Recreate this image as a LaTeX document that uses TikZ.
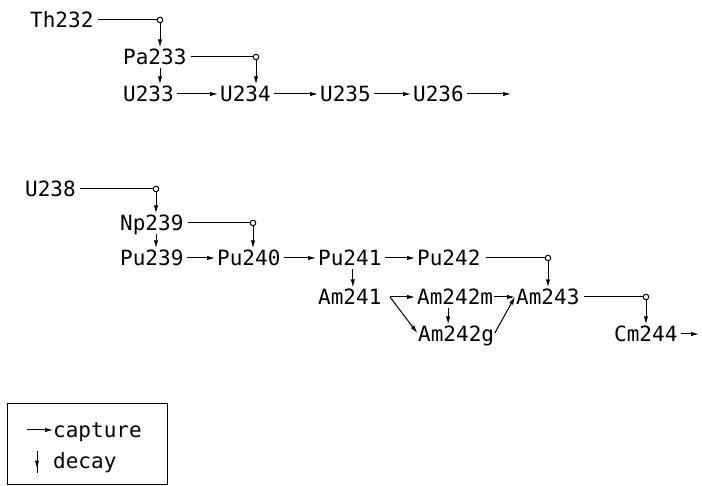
\documentclass[tikz,border=0pt]{standalone}
\usepackage{fontspec}
\setmainfont{DejaVu Sans Mono}
\usetikzlibrary{arrows.meta,calc}
\begin{document}
\begin{tikzpicture}[x=1pt,y=-1pt,
  nuc/.style={anchor=west,inner sep=0pt,text height=15pt,text depth=0pt,
    font=\fontsize{21}{24}\selectfont},
  ln/.style={line width=1pt},
  caparr/.style={ln,-{Latex[length=8pt,width=4.4pt]},shorten <=3pt,shorten >=2pt},
  decarr/.style={ln,-{Latex[length=8pt,width=4.4pt]},shorten <=2pt,shorten >=2pt},
  br/.style={circle,draw,line width=1pt,inner sep=0pt,minimum size=5.5pt}]
\useasboundingbox (0,0) rectangle (702,486);
% ---------- thorium chain
\node[nuc] (Th232) at (30,20) {Th232};
\node[br] (b1) at (160,20) {};
\node[nuc] (Pa233) at (123,57) {Pa233};
\node[br] (b2) at (256,57) {};
\node[nuc] (U233) at (123,94) {U233};
\node[nuc] (U234) at (220,94) {U234};
\node[nuc] (U235) at (320,94) {U235};
\node[nuc] (U236) at (413,94) {U236};
\coordinate (endU) at (513,94);
\draw[ln,shorten <=4pt] (Th232.east) -- (b1);
\draw[decarr,shorten <=0pt] (b1) -- (b1 |- Pa233.north);
\draw[ln,shorten <=4pt] (Pa233.east) -- (b2);
\draw[decarr,shorten <=0pt] (b2) -- (b2 |- U234.north);
\draw[decarr,shorten <=3pt] (Pa233.south -| b1) -- (U233.north -| b1);
\draw[caparr] (U233.east) -- (U234.west);
\draw[caparr] (U234.east) -- (U235.west);
\draw[caparr] (U235.east) -- (U236.west);
\draw[caparr] (U236.east) -- (endU);
% ---------- uranium chain
\node[nuc] (U238) at (25,189) {U238};
\node[br] (b3) at (156,189) {};
\node[nuc] (Np239) at (120,223) {Np239};
\node[br] (b4) at (253,223) {};
\node[nuc] (Pu239) at (120,258) {Pu239};
\node[nuc] (Pu240) at (217,258) {Pu240};
\node[nuc] (Pu241) at (318,258) {Pu241};
\node[nuc] (Pu242) at (417,258) {Pu242};
\node[br] (b5) at (548,258) {};
\node[nuc] (Am241) at (318,297) {Am241};
\coordinate (c1) at (390,297);
\node[nuc] (Am242m) at (417,297) {Am242m};
\node[nuc] (Am243) at (516,297) {Am243};
\node[br] (b6) at (646,297) {};
\node[nuc] (Am242g) at (418,334) {Am242g};
\node[nuc] (Cm244) at (614,334) {Cm244};
\coordinate (endC) at (701,334);
\draw[ln,shorten <=4pt] (U238.east) -- (b3);
\draw[decarr,shorten <=0pt] (b3) -- (b3 |- Np239.north);
\draw[ln,shorten <=4pt] (Np239.east) -- (b4);
\draw[decarr,shorten <=0pt] (b4) -- (b4 |- Pu240.north);
\draw[decarr,shorten <=3pt] (Np239.south -| b3) -- (Pu239.north -| b3);
\draw[caparr] (Pu239.east) -- (Pu240.west);
\draw[caparr] (Pu240.east) -- (Pu241.west);
\draw[caparr] (Pu241.east) -- (Pu242.west);
\draw[ln,shorten <=5pt] (Pu242.east) -- (b5);
\draw[decarr,shorten <=0pt] (b5) -- (b5 |- Am243.north);
\draw[decarr,shorten <=3pt] ([xshift=3pt]Pu241.south) -- ([xshift=3pt]Pu241.south |- Am241.north);
\draw[caparr,shorten <=0pt] (c1) -- (Am242m.west);
\draw[caparr,shorten <=0pt,shorten >=1pt] (c1) -- (Am242g.west);
\draw[decarr,shorten <=3pt] ([xshift=-7pt]Am242m.south) -- ([xshift=-7pt]Am242m.south |- Am242g.north);
\draw[caparr,shorten <=1pt,shorten >=1pt] (Am242m.east) -- (Am243.west);
\draw[caparr,shorten <=1pt,shorten >=2pt] (Am242g.east) -- ([yshift=2pt]Am243.west);
\draw[ln,shorten <=4pt] (Am243.east) -- (b6);
\draw[decarr,shorten <=0pt] (b6) -- (b6 |- Cm244.north);
\draw[caparr] (Cm244.east) -- (endC);
% ---------- legend
\node[draw,line width=1pt,minimum width=160pt,minimum height=81pt,anchor=north west,inner sep=0pt] (legend) at (7,403) {};
\node[nuc] (capt) at (53,430) {capture};
\node[nuc] (decy) at (53,461) {decay};
\coordinate (lc) at (27,430);
\coordinate (ld1) at (37,451);
\coordinate (ld2) at (37,473);
\draw[caparr,shorten <=0pt,shorten >=0pt] (lc) -- (capt.west);
\draw[ln] (ld1) -- (ld2);
\draw[decarr,shorten <=0pt,shorten >=0pt] (ld1) -- ($(ld1)!0.8!(ld2)$);
\end{tikzpicture}
\end{document}
